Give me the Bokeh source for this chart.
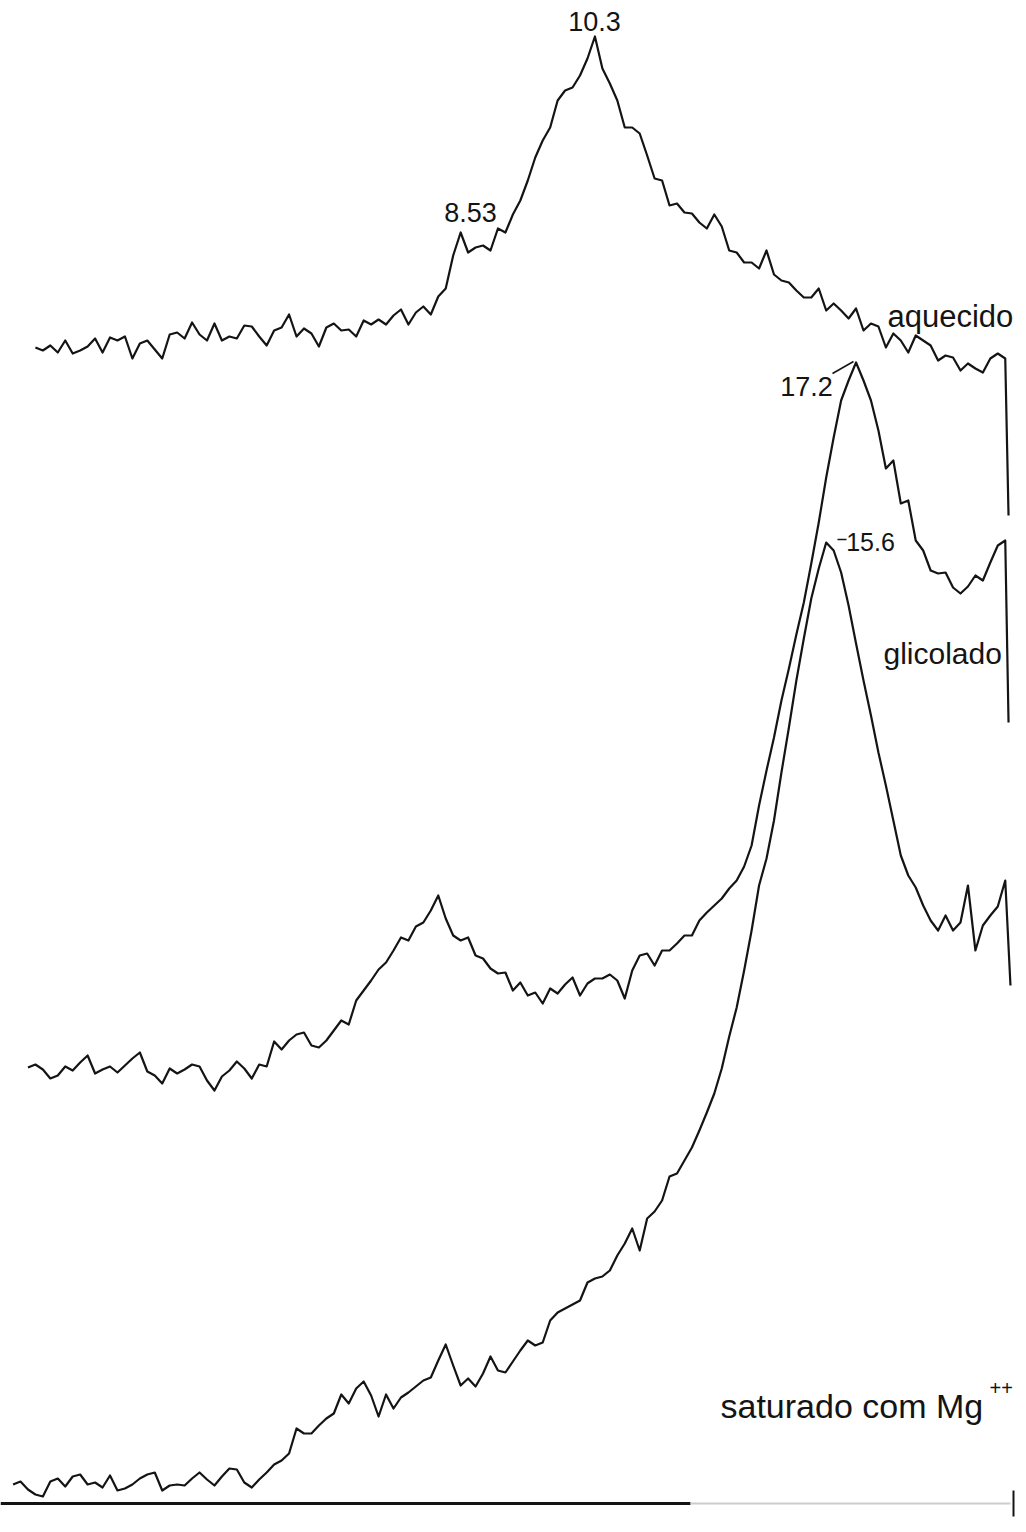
import numpy as np
from bokeh.plotting import figure
from bokeh.models import Range1d, Label
from bokeh.embed import file_html
from bokeh.resources import INLINE

# ---------------- data (2-theta in degrees, CuK-alpha; intensities in chart units) ----------
STEP = 0.1
# aquecido (heated) : 16.1 .. 3.1 deg
aquecido_I = [33,
              30, 35, 28, 40, 27, 30, 34, 42, 28, 43,
              40, 44, 22, 37, 40, 31, 22, 46, 48, 42,
              58, 46, 40, 57, 40, 44, 42, 55, 54, 44,
              35, 50, 53, 66, 44, 52, 47, 34, 53, 57,
              50, 51, 44, 60, 56, 61, 56, 65, 71, 56,
              68, 74, 66, 84, 92, 125, 148, 128, 133, 135,
              130, 152, 148, 166, 180, 200, 223, 240, 253, 280,
              290, 293, 305, 322, 344, 312, 297, 280, 253, 253,
              247, 225, 202, 200, 175, 177, 168, 167, 158, 152,
              166, 154, 130, 128, 118, 118, 112, 130, 106, 100,
              98, 90, 83, 83, 92, 70, 77, 70, 62, 72,
              50, 57, 54, 33, 47, 40, 28, 45, 40, 35,
              20, 25, 23, 10, 17, 12, 8, 22, 27, 22]
# glicolado (glycolated) : 16.2 .. 3.1 deg
glicolado_I = [33, 36,
               31, 22, 25, 34, 30, 38, 45, 27, 31, 34,
               28, 35, 42, 48, 29, 25, 17, 32, 27, 31,
               36, 34, 20, 10, 24, 30, 39, 32, 22, 36,
               34, 59, 51, 60, 66, 68, 55, 53, 60, 70,
               80, 76, 100, 110, 120, 131, 138, 150, 163, 160,
               174, 178, 190, 205, 182, 165, 160, 163, 145, 142,
               132, 127, 128, 110, 118, 105, 108, 97, 112, 107,
               116, 123, 105, 117, 122, 122, 126, 120, 102, 130,
               145, 147, 135, 150, 150, 157, 165, 165, 180, 188,
               195, 202, 212, 220, 234, 255, 295, 330, 363, 400,
               432, 466, 498, 537, 578, 623, 663, 700, 720, 738,
               720, 700, 670, 632, 640, 597, 600, 560, 550, 530,
               527, 528, 513, 507, 514, 525, 520, 538, 555, 560]
# saturado com Mg++ : 16.4 .. 3.1 deg
magnesio_I = [36, 39, 31, 26,
              24, 39, 42, 34, 44, 46, 36, 38, 33, 45,
              30, 32, 36, 42, 46, 48, 30, 35, 36, 35,
              42, 48, 41, 35, 44, 52, 51, 38, 33, 41,
              48, 56, 60, 67, 92, 87, 87, 95, 102, 107,
              126, 117, 132, 139, 125, 104, 126, 112, 123, 128,
              134, 140, 143, 160, 176, 155, 135, 142, 134, 147,
              164, 150, 148, 159, 170, 180, 175, 178, 200, 208,
              212, 216, 220, 238, 242, 244, 250, 265, 277, 292,
              270, 302, 309, 320, 344, 347, 360, 373, 390, 408,
              427, 452, 484, 513, 550, 590, 635, 662, 700, 748,
              793, 840, 882, 922, 952, 978, 970, 948, 915, 877,
              840, 805, 768, 735, 700, 665, 645, 633, 615, 600,
              590, 605, 590, 598, 635, 570, 595, 605, 614, 640]

start_2theta = {"aquecido": 16.1, "glicolado": 16.2, "magnesio": 16.4}
end_2theta = 3.1
# pen return at the end of each scan: (2-theta, intensity)
pen_return = {"aquecido": (3.056, -135), "glicolado": (3.056, 378), "magnesio": (3.03, 535)}
# vertical stacking offsets of the three recordings (chart units)
offsets = {"aquecido": 1150, "glicolado": 430, "magnesio": 10}

peak_labels = ["10.3", "8.53", "17.2", "15.6"]
trace_names = ["aquecido", "glicolado", "saturado com Mg"]

# ---------------- figure ----------------
W, H = 1024, 1530
TT_LEFT, TT_RIGHT = 16.568, 2.842
p = figure(width=W, height=H, x_range=Range1d(TT_LEFT, TT_RIGHT), y_range=Range1d(0, H),
           output_backend="svg", toolbar_location=None, min_border=0,
           x_axis_location=None, y_axis_location=None)
p.grid.visible = False
p.outline_line_color = None
p.background_fill_color = "white"
p.border_fill_color = "white"

def px2tt(px):
    return TT_LEFT + (TT_RIGHT - TT_LEFT) * px / W

def py2y(py):
    return H - py

INK = "#141414"
series = {"aquecido": aquecido_I, "glicolado": glicolado_I, "magnesio": magnesio_I}
for name, vals in series.items():
    n = int(round((start_2theta[name] - end_2theta) / STEP)) + 1
    assert n == len(vals), (name, n, len(vals))
    xs = list(np.round(np.linspace(start_2theta[name], end_2theta, n), 2))
    ys = [offsets[name] + v for v in vals]
    rx, ry = pen_return[name]
    xs.append(rx)
    ys.append(offsets[name] + ry)
    p.line(xs, ys, line_color=INK, line_width=2.2, line_join="round")

# recorder zero line and end mark
p.line([TT_LEFT, px2tt(690)], [py2y(1503)] * 2, line_color=INK, line_width=3)
p.line([px2tt(690), px2tt(1010)], [py2y(1503)] * 2, line_color="#cccccc", line_width=2)
p.line([px2tt(1013)] * 2, [py2y(1490), py2y(1516)], line_color=INK, line_width=2)

FONT = "Liberation Sans"

def add_label(text, px, py, size, align="center", baseline="bottom"):
    p.add_layout(Label(x=px2tt(px), y=py2y(py), text=text, text_font=FONT,
                       text_font_size=f"{size}px", text_color=INK,
                       text_align=align, text_baseline=baseline))

# peak d-spacings (Angstrom)
add_label(peak_labels[0], 594, 30, 27)
add_label(peak_labels[1], 470, 221, 27)
add_label(peak_labels[2], 806, 395, 27)
add_label(peak_labels[3], 870, 550, 25)
p.line([px2tt(832), px2tt(853)], [py2y(373), py2y(361)], line_color=INK, line_width=1.5)
p.line([px2tt(837), px2tt(846)], [py2y(539), py2y(539)], line_color=INK, line_width=1.5)

# sample treatment names
add_label(trace_names[0], 887, 316, 31, align="left", baseline="alphabetic")
add_label(trace_names[1], 883, 653, 30, align="left", baseline="alphabetic")
add_label(trace_names[2], 720, 1405, 34, align="left", baseline="alphabetic")
add_label("++", 989, 1387, 20, align="left", baseline="alphabetic")

open("out.html", "w").write(file_html(p, INLINE))
